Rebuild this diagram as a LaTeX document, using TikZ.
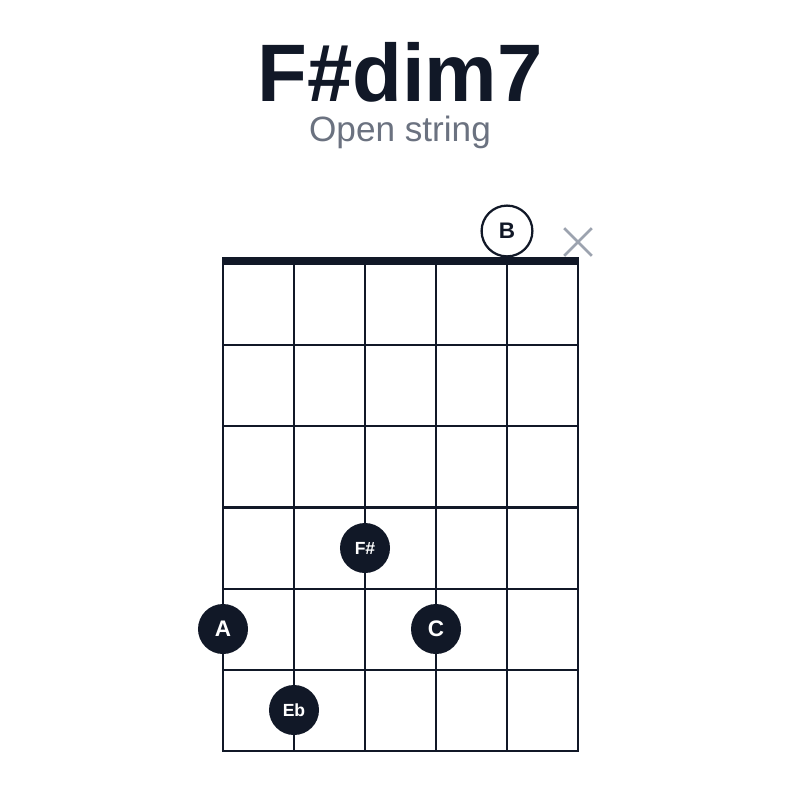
\documentclass[tikz,border=0pt]{standalone}
\usepackage{fontspec}
\setmainfont{Liberation Sans}
\usetikzlibrary{positioning,shapes.misc}
\definecolor{ink}{HTML}{111827}
\definecolor{subgray}{HTML}{6B7280}
\definecolor{mutegray}{HTML}{9CA3AF}
\tikzset{
	%Define style for fretted notes
	finger/.style={
		circle,
		fill=ink,
		text=white,
		inner sep=0pt,
		minimum size=1.25cm,
		font=\fontsize{16}{16}\selectfont\bfseries},
	% smaller text for two-letter notes
	small/.style={font=\fontsize{12.5}{12.5}\selectfont\bfseries},
	% Define style for open strings
	openstr/.style={
		circle,
		draw=ink,
		line width=1.6pt,
		fill=white,
		text=ink,
		inner sep=0pt,
		minimum size=1.27cm,
		font=\fontsize{16}{16}\selectfont\bfseries},
	% Define style for muted strings
	mute/.style={
		cross out,
		draw=mutegray,
		line width=2pt,
		inner sep=0pt,
		minimum size=0.62cm},
	% grid lines
	fret/.style={draw=ink, line width=1.5pt}
}
\begin{document}
\begin{tikzpicture}[x=0.025cm, y=-0.025cm]
	\useasboundingbox[fill=white] (0,0) rectangle (800,800);

	\node[anchor=base, inner sep=0pt, text=ink, font=\fontsize{58}{58}\selectfont\bfseries] (title) at (400,102) {F\#dim7};
	\node[anchor=base, inner sep=0pt, text=subgray, font=\fontsize{25}{25}\selectfont] (subtitle) at (400,142) {Open string};

	% strings and frets
	\foreach \s in {0,...,5}
		\draw[fret] (223+71*\s,264) -- (223+71*\s,751);
	\foreach \f in {1,...,6}
		\draw[fret] (222,264+81.17*\f) -- (579,264+81.17*\f);
	% nut
	\fill[ink] (222,257) rectangle (579,265);

	\node[openstr] (b-open) at (507,231) {B};
	\node[mute] (x-mute) at (578,242) {};

	\node[finger, small] (fs-note) at (365,548) {F\#};
	\node[finger] (a-note) at (223,629) {A};
	\node[finger] (c-note) at (436,629) {C};
	\node[finger, small] (eb-note) at (294,710) {Eb};

\end{tikzpicture}
\end{document}
